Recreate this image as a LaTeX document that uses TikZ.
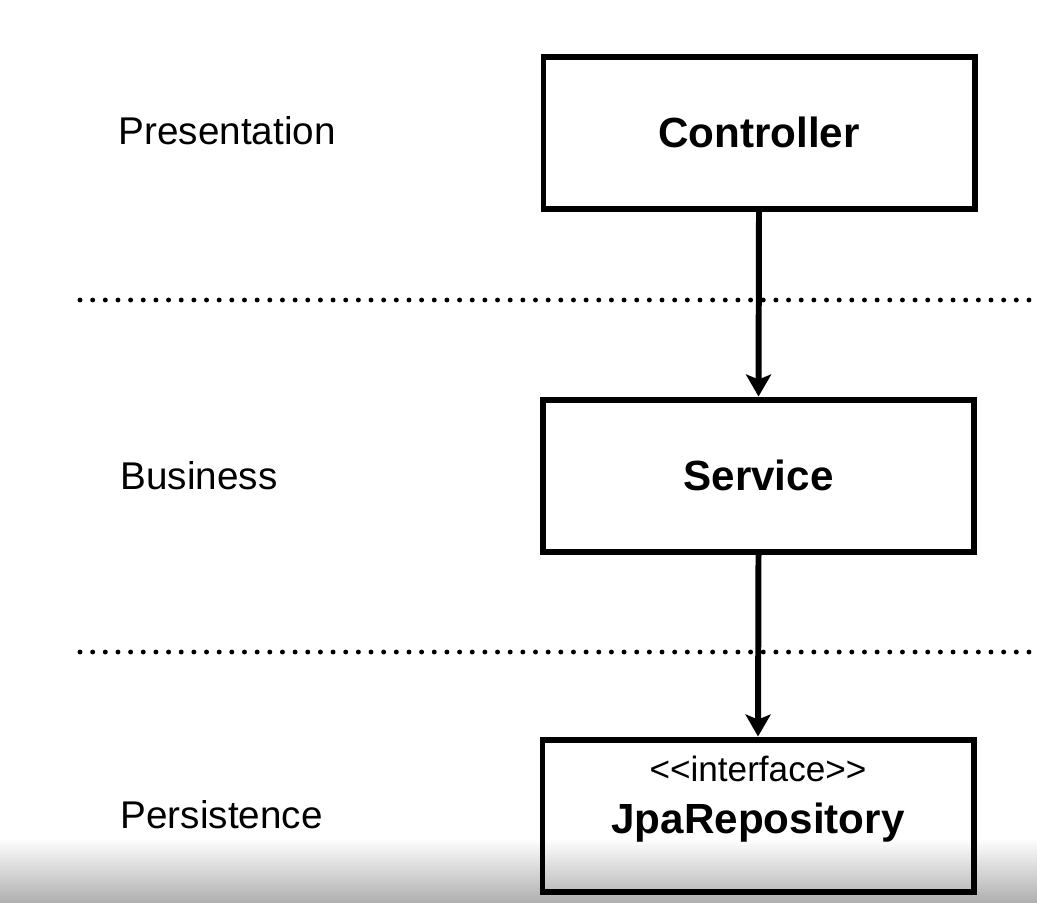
\documentclass[tikz,border=0pt]{standalone}
\usepackage{fontspec}
\setmainfont{Liberation Sans}
\usepackage{tikz}
\usetikzlibrary{arrows.meta,positioning,calc}
\definecolor{fadegray}{HTML}{B0B0B0}

\begin{document}
\begin{tikzpicture}[
    layerbox/.style={draw, line width=1.7pt, minimum width=4.31cm,
                     minimum height=1.52cm, align=center, inner sep=0pt},
    title/.style={font=\fontsize{12}{14}\selectfont\bfseries},
    layername/.style={anchor=west, inner sep=0pt, font=\fontsize{11}{13}\selectfont},
    arrow/.style={-{Stealth[length=2.2mm, width=2.5mm, inset=0.5mm]}, line width=1.7pt},
    divider/.style={line width=1.4pt, line cap=round, dash pattern=on 0pt off 3.6pt}
]
% --- frame ---
\useasboundingbox (0,0) rectangle (10.37,-9.02);
\shade[top color=white, bottom color=fadegray] (0,-8.38) rectangle (10.37,-9.02);

% --- layer names ---
\node[layername] (pres) at (1.18,-1.31) {Presentation};
\node[layername] (bus)  at (1.20,-4.76) {Business};
\node[layername] (pers) at (1.20,-8.15) {Persistence};

% --- boxes ---
\node[layerbox, title] (ctrl) at (7.59,-1.325) {Controller};
\node[layerbox, title] (svc)  at (7.585,-4.755) {Service};
\node[layerbox]        (repo) at (7.58,-8.155)
  {\begin{minipage}[c][1.40cm][t]{4.2cm}\centering
   \vspace{1mm}
   {\fontsize{10}{12}\selectfont <\kern0pt<interface>\kern0pt>\par}
   {\fontsize{12}{14.8}\selectfont\bfseries JpaRepository\par}
   \end{minipage}};

% --- dividers ---
\coordinate (d1a) at (0.80,-3.00);
\coordinate (d1b) at (10.37,-3.00);
\coordinate (d2a) at (0.80,-6.52);
\coordinate (d2b) at (10.37,-6.52);
\draw[divider] (d1a) -- (d1b);
\draw[divider] (d2a) -- (d2b);

% --- arrows ---
\draw[arrow] (ctrl.south) -- (svc.north);
\draw[arrow] (svc.south) -- (repo.north);

\end{tikzpicture}
\end{document}
